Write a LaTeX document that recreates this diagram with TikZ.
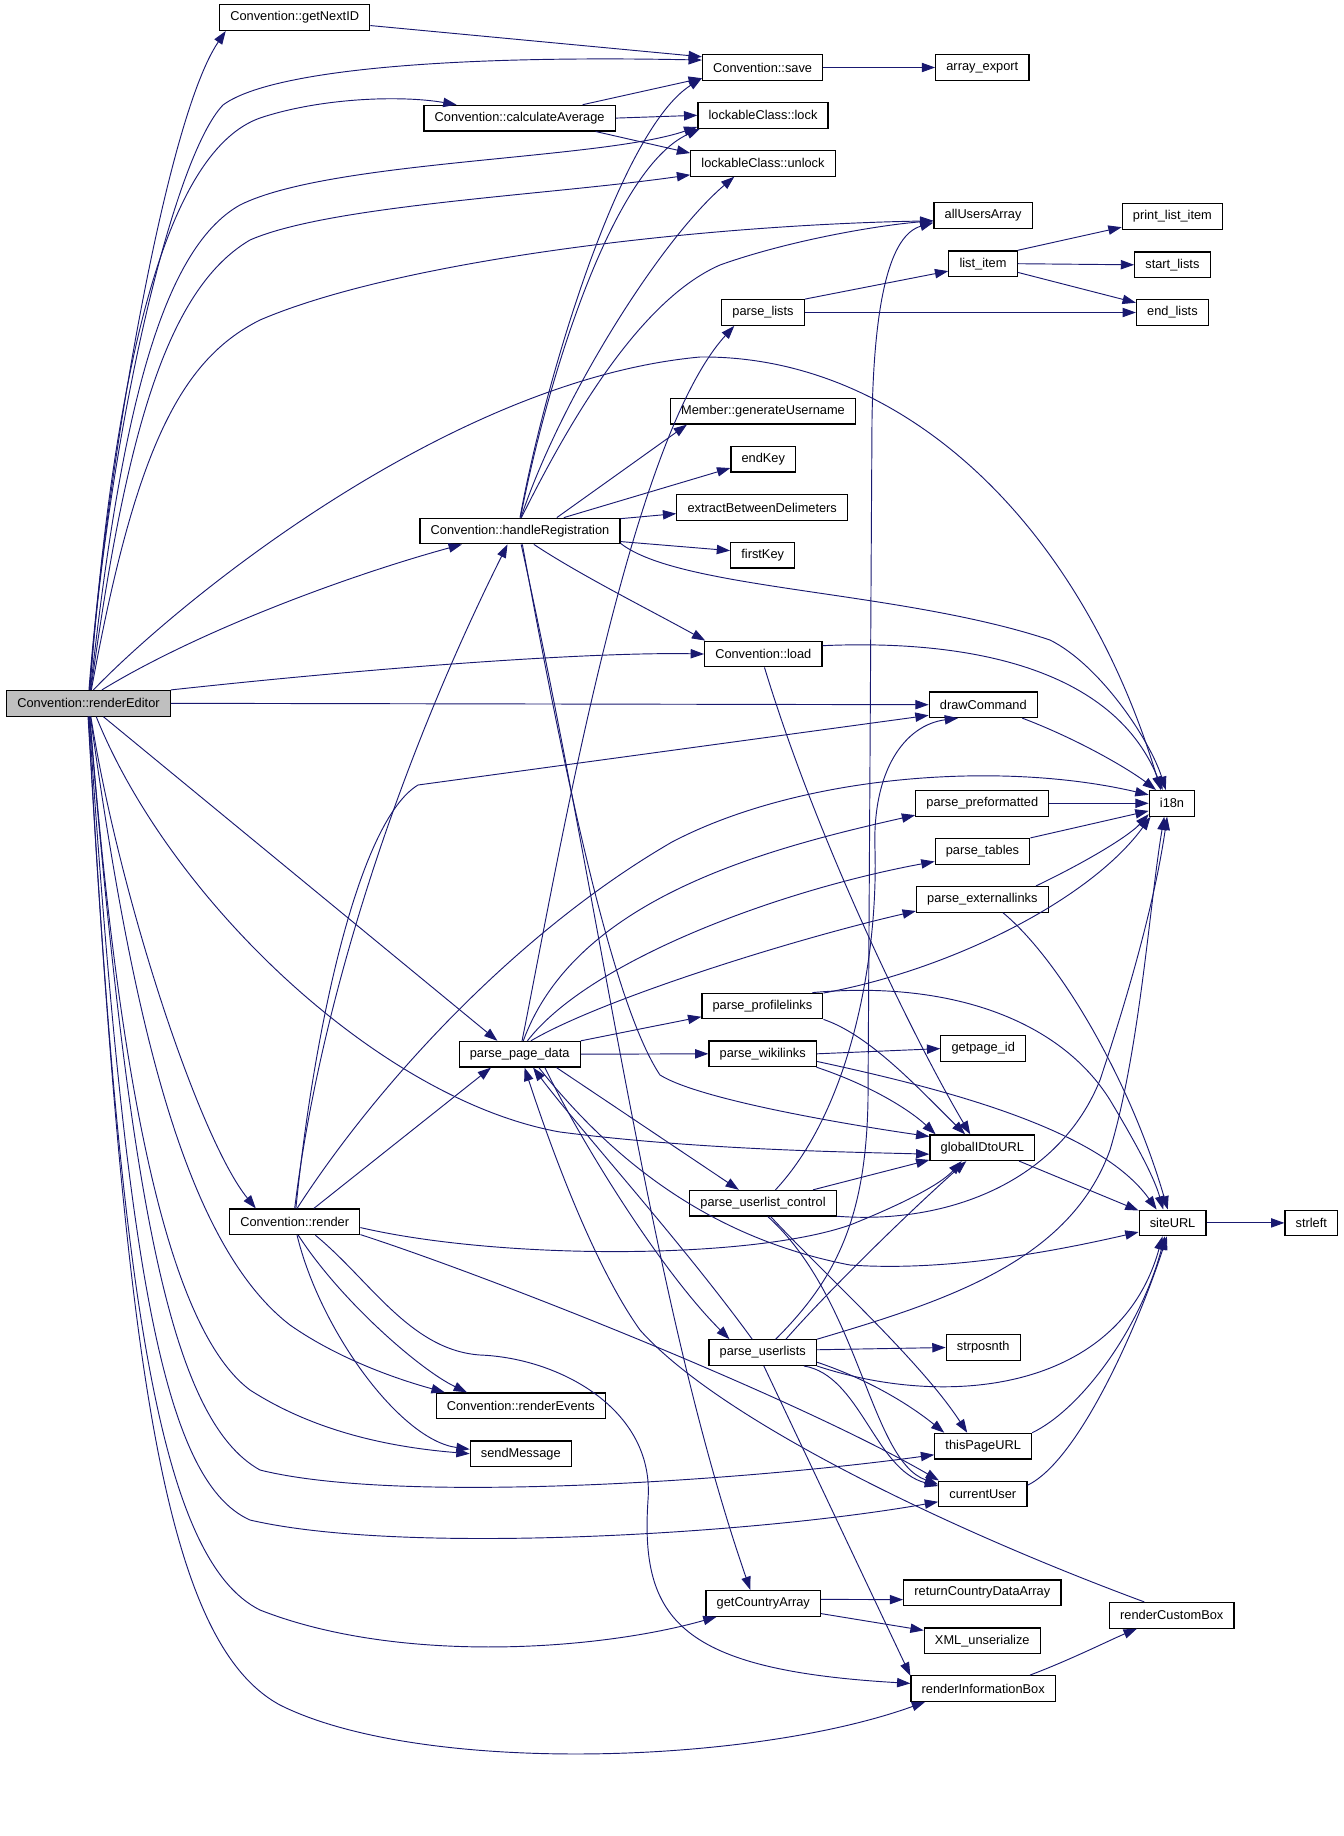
\documentclass[tikz,border=0pt]{standalone}
\usepackage{fontspec}
\setmainfont{Liberation Sans}
\usepackage{tikz}
\usetikzlibrary{arrows.meta}
\definecolor{edgeBlue}{HTML}{191970}
\definecolor{rootGray}{HTML}{BFBFBF}

\begin{document}
\begin{tikzpicture}[x=0.75pt, y=-0.75pt,
  boxStyle/.style={draw=black, fill=white, line width=0.9pt, rectangle, minimum height=19.2pt, inner xsep=8pt, inner ysep=0pt, font=\fontsize{9.6}{11}\selectfont},
  rootStyle/.style={boxStyle, fill=rootGray},
  callStyle/.style={draw=edgeBlue, line width=0.7pt, -{Triangle[length=10pt,width=7pt]}}]
			\useasboundingbox (0,0) rectangle (1344,1836);

			% Caller
			\node[rootStyle] (renderEditor) at (88.5,703.3) {Convention::renderEditor};

			% Column 1
			\node[boxStyle] (getNextID) at (294.7,17.6) {Convention::getNextID};
			\node[boxStyle] (render) at (294.7,1221.8) {Convention::render};

			% Column 2
			\node[boxStyle] (calcAverage) at (519.6,118.1) {Convention::calculateAverage};
			\node[boxStyle] (handleReg) at (520,531) {Convention::handleRegistration};
			\node[boxStyle] (pageData) at (519.7,1054.2) {parse\_page\_data};
			\node[boxStyle] (renderEvents) at (520.8,1405.7) {Convention::renderEvents};
			\node[boxStyle] (sendMessage) at (520.8,1453.7) {sendMessage};

			% Column 3
			\node[boxStyle] (save) at (762.6,67.5) {Convention::save};
			\node[boxStyle] (lock) at (763,115.3) {lockableClass::lock};
			\node[boxStyle] (unlock) at (763,163.3) {lockableClass::unlock};
			\node[boxStyle] (parseLists) at (763,312.5) {parse\_lists};
			\node[boxStyle] (genUsername) at (763,411.2) {Member::generateUsername};
			\node[boxStyle] (endKey) at (763.3,459.2) {endKey};
			\node[boxStyle] (extractDelim) at (762.2,507.6) {extractBetweenDelimeters};
			\node[boxStyle] (firstKey) at (762.7,555.2) {firstKey};
			\node[boxStyle] (load) at (763.3,654) {Convention::load};
			\node[boxStyle] (profileLinks) at (762.4,1006) {parse\_profilelinks};
			\node[boxStyle] (wikiLinks) at (762.7,1053.8) {parse\_wikilinks};
			\node[boxStyle] (userlistControl) at (763,1203.2) {parse\_userlist\_control};
			\node[boxStyle] (userLists) at (762.7,1352.6) {parse\_userlists};
			\node[boxStyle] (getCountryArray) at (763.3,1603.4) {getCountryArray};

			% Column 4
			\node[boxStyle] (arrayExport) at (982.3,67.5) {array\_export};
			\node[boxStyle] (allUsersArray) at (983.1,215.6) {allUsersArray};
			\node[boxStyle] (listItem) at (983,263.7) {list\_item};
			\node[boxStyle] (drawCommand) at (983.3,704.7) {drawCommand};
			\node[boxStyle] (preformatted) at (982.3,803.3) {parse\_preformatted};
			\node[boxStyle] (parseTables) at (982.5,851.3) {parse\_tables};
			\node[boxStyle] (externalLinks) at (982.3,899.3) {parse\_externallinks};
			\node[boxStyle] (getpageId) at (983.2,1048.6) {getpage\_id};
			\node[boxStyle] (globalIDtoURL) at (982.3,1147.7) {globalIDtoURL};
			\node[boxStyle] (strposnth) at (983.2,1347.5) {strposnth};
			\node[boxStyle] (thisPageURL) at (983.2,1446.1) {thisPageURL};
			\node[boxStyle] (currentUser) at (982.8,1493.9) {currentUser};
			\node[boxStyle] (returnCountry) at (982.3,1592.7) {returnCountryDataArray};
			\node[boxStyle] (xmlUnserialize) at (982.3,1640.7) {XML\_unserialize};
			\node[boxStyle] (renderInfoBox) at (983.2,1688.5) {renderInformationBox};

			% Column 5
			\node[boxStyle] (printListItem) at (1172.4,216.4) {print\_list\_item};
			\node[boxStyle] (startLists) at (1172.4,264.8) {start\_lists};
			\node[boxStyle] (endLists) at (1172.4,312.5) {end\_lists};
			\node[boxStyle] (i18n) at (1172,803.3) {i18n};
			\node[boxStyle] (siteURL) at (1172.6,1222.9) {siteURL};
			\node[boxStyle] (renderCustomBox) at (1171.8,1615.3) {renderCustomBox};

			% Column 6
			\node[boxStyle] (strleft) at (1311.3,1222.9) {strleft};

			% renderEditor calls
			\draw[callStyle] (renderEditor.88) .. controls (105,480) and (165,120) .. (getNextID.191);
			\draw[callStyle] (renderEditor.86) .. controls (110,420) and (175,155) .. (223,105) .. controls (270,70) and (450,55) .. (save.173);
			\draw[callStyle] (renderEditor.84) .. controls (115,350) and (170,150) .. (260,118) .. controls (320,98) and (400,95) .. (calcAverage.168);
			\draw[callStyle] (renderEditor.82) .. controls (120,420) and (160,250) .. (240,205) .. controls (330,160) and (600,160) .. (lock.190);
			\draw[callStyle] (renderEditor.80) .. controls (125,440) and (165,290) .. (250,240) .. controls (330,205) and (550,195) .. (unlock.189);
			\draw[callStyle] (renderEditor.78) .. controls (135,450) and (180,360) .. (260,320) .. controls (400,260) and (700,225) .. (allUsersArray.186);
			\draw[callStyle] (renderEditor.70) .. controls (180,600) and (450,380) .. (700,357) .. controls (900,355) and (1080,520) .. (i18n.130);
			\draw[callStyle] (renderEditor.45) .. controls (200,630) and (350,575) .. (handleReg.193);
			\draw[callStyle] (renderEditor.north east) .. controls (400,665) and (600,652) .. (load.west);
			\draw[callStyle] (renderEditor.east) -- (drawCommand.west);
			\draw[callStyle] (renderEditor.-42) -- (pageData.149);
			\draw[callStyle] (renderEditor.-60) .. controls (170,900) and (380,1100) .. (560,1132) .. controls (700,1150) and (850,1152) .. (globalIDtoURL.187);
			\draw[callStyle] (renderEditor.-80) .. controls (120,900) and (200,1140) .. (render.161);
			\draw[callStyle] (renderEditor.-82) .. controls (130,1000) and (180,1240) .. (290,1325) .. controls (340,1360) and (400,1380) .. (renderEvents.170);
			\draw[callStyle] (renderEditor.-84) .. controls (120,1100) and (170,1330) .. (250,1390) .. controls (320,1435) and (400,1448) .. (sendMessage.west);
			\draw[callStyle] (renderEditor.-86) .. controls (130,1200) and (170,1420) .. (260,1470) .. controls (400,1505) and (750,1480) .. (thisPageURL.190);
			\draw[callStyle] (renderEditor.-88) .. controls (125,1250) and (160,1480) .. (250,1520) .. controls (400,1555) and (750,1535) .. (currentUser.190);
			\draw[callStyle] (renderEditor.-90) .. controls (120,1300) and (160,1560) .. (260,1610) .. controls (400,1665) and (600,1650) .. (getCountryArray.196);
			\draw[callStyle] (renderEditor.-92) .. controls (125,1350) and (160,1640) .. (280,1705) .. controls (420,1775) and (750,1765) .. (renderInfoBox.193);

			% getNextID and calculateAverage
			\draw[callStyle] (getNextID.354) -- (save.170);
			\draw[callStyle] (calcAverage.12) -- (save.190);
			\draw[callStyle] (calcAverage.east) -- (lock.west);
			\draw[callStyle] (calcAverage.-10) -- (unlock.172);
			\draw[callStyle] (save.east) -- (arrayExport.west);

			% handleRegistration calls
			\draw[callStyle] (handleReg.north) .. controls (545,380) and (620,130) .. (save.190);
			\draw[callStyle] (handleReg.88) .. controls (545,390) and (610,170) .. (lock.192);
			\draw[callStyle] (handleReg.86) .. controls (560,400) and (660,240) .. (unlock.205);
			\draw[callStyle] (handleReg.84) .. controls (570,420) and (640,300) .. (720,265) .. controls (790,240) and (880,225) .. (allUsersArray.186);
			\draw[callStyle] (handleReg.20) -- (genUsername.190);
			\draw[callStyle] (handleReg.17) -- (endKey.195);
			\draw[callStyle] (handleReg.7) -- (extractDelim.184);
			\draw[callStyle] (handleReg.-6) -- (firstKey.172);
			\draw[callStyle] (handleReg.-7) .. controls (680,590) and (900,590) .. (1050,640) .. controls (1100,665) and (1150,740) .. (i18n.115);
			\draw[callStyle] (handleReg.-44) .. controls (580,575) and (650,610) .. (load.167);
			\draw[callStyle] (handleReg.-80) .. controls (560,750) and (610,1000) .. (660,1075) .. controls (700,1100) and (850,1125) .. (globalIDtoURL.168);
			\draw[callStyle] (handleReg.-85) .. controls (600,900) and (650,1300) .. (getCountryArray.134);

			% load, drawCommand
			\draw[callStyle] (load.8) .. controls (950,640) and (1110,660) .. (i18n.125);
			\draw[callStyle] (load.-85) .. controls (820,850) and (920,1050) .. (globalIDtoURL.132);
			\draw[callStyle] (drawCommand.-19) .. controls (1080,740) and (1130,770) .. (i18n.140);

			% render calls
			\draw[callStyle] (render.north) .. controls (320,1000) and (400,760) .. (handleReg.-133);
			\draw[callStyle] (render.85) .. controls (315,1020) and (360,820) .. (418,785) -- (drawCommand.191);
			\draw[callStyle] (render.80) .. controls (380,1080) and (520,930) .. (672,842) .. controls (800,775) and (1000,760) .. (i18n.160);
			\draw[callStyle] (render.35) -- (pageData.205);
			\draw[callStyle] (render.-5) .. controls (500,1260) and (750,1260) .. (850,1225) .. controls (900,1205) and (940,1185) .. (globalIDtoURL.-147);
			\draw[callStyle] (render.-11) .. controls (500,1280) and (800,1400) .. (currentUser.163);
			\draw[callStyle] (render.-75) .. controls (340,1300) and (420,1370) .. (renderEvents.166);
			\draw[callStyle] (render.-80) .. controls (320,1330) and (400,1440) .. (sendMessage.175);
			\draw[callStyle] (render.-33) .. controls (370,1280) and (410,1350) .. (480,1355) .. controls (560,1358) and (655,1410) .. (648,1500) .. controls (640,1620) and (680,1670) .. (renderInfoBox.176);

			% parse_page_data calls
			\draw[callStyle] (pageData.80) .. controls (560,850) and (630,440) .. (parseLists.205);
			\draw[callStyle] (pageData.75) .. controls (575,900) and (760,850) .. (preformatted.190);
			\draw[callStyle] (pageData.60) .. controls (590,960) and (780,890) .. (parseTables.192);
			\draw[callStyle] (pageData.50) .. controls (600,1000) and (790,940) .. (externalLinks.190);
			\draw[callStyle] (pageData.north east) -- (profileLinks.190);
			\draw[callStyle] (pageData.east) -- (wikiLinks.west);
			\draw[callStyle] (pageData.-20) -- (userlistControl.151);
			\draw[callStyle] (pageData.-28) .. controls (580,1140) and (660,1270) .. (userLists.158);
			\draw[callStyle] (pageData.-35) .. controls (620,1170) and (720,1240) .. (850,1265) .. controls (950,1272) and (1060,1250) .. (siteURL.195);

			% list helpers
			\draw[callStyle] (parseLists.north east) -- (listItem.192);
			\draw[callStyle] (parseLists.east) -- (endLists.west);
			\draw[callStyle] (listItem.north east) -- (printListItem.192);
			\draw[callStyle] (listItem.east) -- (startLists.west);
			\draw[callStyle] (listItem.-14) -- (endLists.165);

			% link parsers
			\draw[callStyle] (profileLinks.12) .. controls (950,970) and (1090,900) .. (i18n.-148);
			\draw[callStyle] (profileLinks.15) .. controls (950,980) and (1060,1020) .. (1110,1100) .. controls (1140,1150) and (1155,1180) .. (siteURL.125);
			\draw[callStyle] (profileLinks.south east) .. controls (870,1035) and (920,1090) .. (globalIDtoURL.142);
			\draw[callStyle] (wikiLinks.east) -- (getpageId.west);
			\draw[callStyle] (wikiLinks.-14) .. controls (870,1085) and (910,1110) .. (globalIDtoURL.164);
			\draw[callStyle] (wikiLinks.-8) .. controls (950,1090) and (1100,1130) .. (siteURL.140);
			\draw[callStyle] (externalLinks.14) .. controls (1090,860) and (1130,835) .. (i18n.-155);
			\draw[callStyle] (externalLinks.-33) .. controls (1060,960) and (1130,1080) .. (siteURL.110);
			\draw[callStyle] (parseTables.north east) -- (i18n.198);
			\draw[callStyle] (preformatted.east) -- (i18n.west);

			% parse_userlist_control calls
			\draw[callStyle] (userlistControl.47) .. controls (850,1110) and (878,960) .. (875,850) .. controls (872,770) and (905,725) .. (drawCommand.208);
			\draw[callStyle] (userlistControl.15) -- (globalIDtoURL.193);
			\draw[callStyle] (userlistControl.-10) .. controls (950,1225) and (1060,1180) .. (1100,1080) .. controls (1130,990) and (1155,900) .. (i18n.-110);
			\draw[callStyle] (userlistControl.-60) .. controls (820,1270) and (920,1360) .. (thisPageURL.140);
			\draw[callStyle] (userlistControl.-70) .. controls (860,1300) and (870,1460) .. (currentUser.168);

			% parse_userlists calls
			\draw[callStyle] (userLists.128) .. controls (680,1240) and (580,1130) .. (pageData.-45);
			\draw[callStyle] (userLists.46) .. controls (835,1280) and (866,1220) .. (868,1100) -- (872,420) .. controls (874,300) and (890,235) .. (allUsersArray.188);
			\draw[callStyle] (userLists.30) .. controls (820,1300) and (900,1220) .. (globalIDtoURL.-140);
			\draw[callStyle] (userLists.north east) .. controls (950,1300) and (1070,1260) .. (1110,1150) .. controls (1140,1050) and (1150,900) .. (i18n.-120);
			\draw[callStyle] (userLists.south east) .. controls (950,1410) and (1120,1390) .. (siteURL.-127);
			\draw[callStyle] (userLists.3) -- (strposnth.west);
			\draw[callStyle] (userLists.-10) .. controls (870,1380) and (910,1405) .. (thisPageURL.161);
			\draw[callStyle] (userLists.-18) .. controls (860,1375) and (875,1470) .. (currentUser.170);
			\draw[callStyle] (userLists.-85) -- (renderInfoBox.170);

			% URL helpers
			\draw[callStyle] (globalIDtoURL.-20) -- (siteURL.160);
			\draw[callStyle] (thisPageURL.north east) .. controls (1080,1410) and (1140,1330) .. (siteURL.-120);
			\draw[callStyle] (currentUser.11) .. controls (1080,1460) and (1140,1320) .. (siteURL.-113);
			\draw[callStyle] (siteURL.east) -- (strleft.west);

			% country data and boxes
			\draw[callStyle] (getCountryArray.4) -- (returnCountry.185);
			\draw[callStyle] (getCountryArray.-10) -- (xmlUnserialize.170);
			\draw[callStyle] (renderInfoBox.16) .. controls (1070,1660) and (1110,1640) .. (renderCustomBox.201);
			\draw[callStyle] (renderCustomBox.154) .. controls (950,1530) and (720,1420) .. (640,1330) .. controls (590,1260) and (545,1130) .. (pageData.-70);

		\end{tikzpicture}
\end{document}
